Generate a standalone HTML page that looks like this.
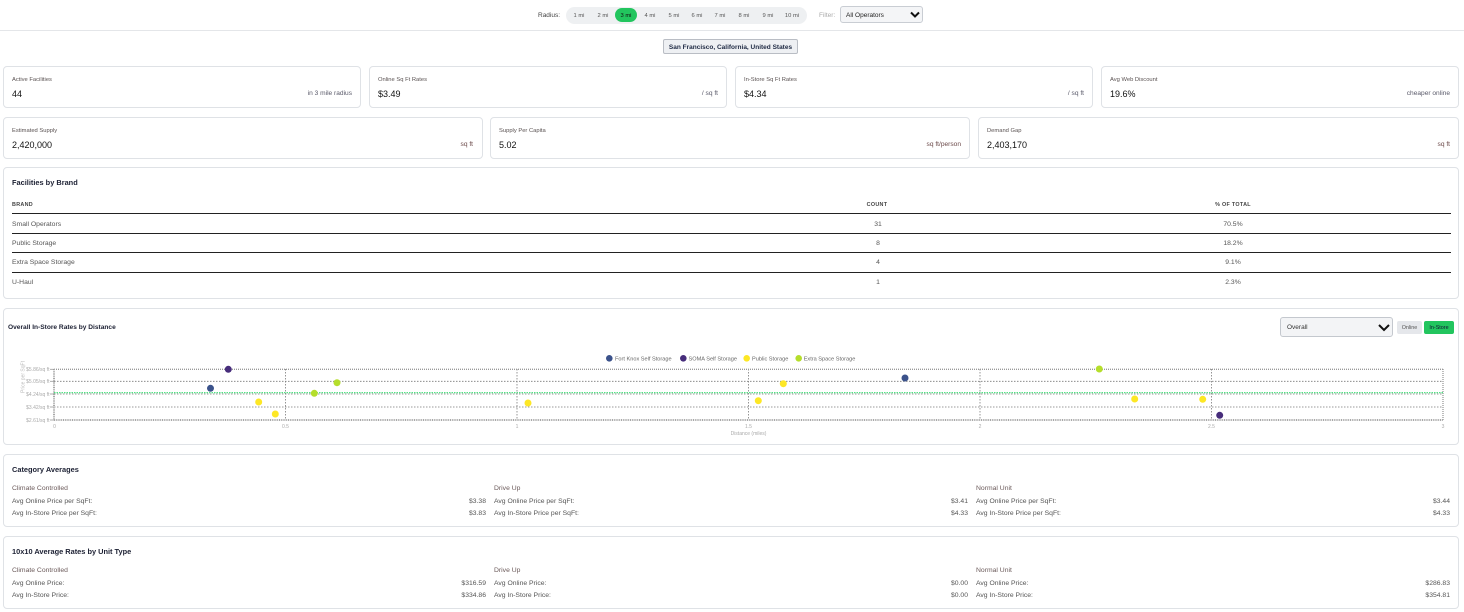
<!DOCTYPE html>
<html><head><meta charset="utf-8"><style>
html,body{margin:0;padding:0;background:#fff;}
#w{position:relative;width:1464px;height:612px;overflow:hidden;font-family:"Liberation Sans",Arial,sans-serif;color:#333;}
.a{position:absolute;white-space:nowrap;line-height:10px;}
.card{position:absolute;border:1px solid #dfe2e6;border-radius:4px;background:#fff;box-sizing:border-box;}
.lbl{font-size:5.8px;color:#5a5252;margin-top:0.7px;}
.val{font-size:9px;color:#111;margin-top:0.5px;}
.sub{font-size:6.6px;color:#5a5a6a;margin-top:0.7px;}
.ttl{font-size:7.4px;font-weight:bold;color:#1c2033;margin-top:0.7px;}
.b{font-size:6.8px;color:#555;margin-top:0.7px;}
.th{font-size:5.4px;font-weight:bold;color:#444;letter-spacing:0.3px;margin-top:0.7px;}
.hl{position:absolute;left:12px;width:1439px;height:1.5px;background:#222;}
.c{text-align:center;width:100px;}
.r{text-align:right;}
.pill{font-size:5.8px;color:#555;text-align:center;width:24px;margin-top:0.7px;}
.tt{margin-top:0.7px;}
</style></head><body><div id="w">

<!-- top bar -->
<div class="a tt" style="left:538px;top:10px;font-size:6.5px;color:#444;">Radius:</div>
<div class="a" style="left:566px;top:7px;width:241px;height:17px;background:#eef0f2;border-radius:9px;"></div>
<div class="a" style="left:615px;top:8px;width:22px;height:13.5px;background:#22c55e;border-radius:7px;"></div>
<div class="a pill" style="left:567px;top:10px;">1 mi</div>
<div class="a pill" style="left:591px;top:10px;">2 mi</div>
<div class="a pill" style="left:614px;top:10px;color:#111;">3 mi</div>
<div class="a pill" style="left:638px;top:10px;">4 mi</div>
<div class="a pill" style="left:662px;top:10px;">5 mi</div>
<div class="a pill" style="left:685px;top:10px;">6 mi</div>
<div class="a pill" style="left:708px;top:10px;">7 mi</div>
<div class="a pill" style="left:732px;top:10px;">8 mi</div>
<div class="a pill" style="left:756px;top:10px;">9 mi</div>
<div class="a pill" style="left:780px;top:10px;">10 mi</div>
<div class="a tt" style="left:819px;top:10px;font-size:6.5px;color:#aaa;">Filter:</div>
<div class="a" style="left:840px;top:6px;width:83px;height:17px;border:1px solid #c9cdd3;border-radius:3px;background:#f4f5f7;box-sizing:border-box;"></div>
<div class="a tt" style="left:846px;top:10px;font-size:6.5px;color:#222;">All Operators</div>
<svg class="a" style="left:0;top:0;" width="1464" height="60">
<polyline points="911,12.5 915,16.5 919,12.5" fill="none" stroke="#111" stroke-width="2"/>
</svg>
<div class="a" style="left:0;top:30px;width:1464px;height:1px;background:#e4e6e9;"></div>
<div class="a" style="left:663px;top:39px;width:135px;height:15px;background:#eef0f3;border:1px solid #b9bdc4;border-radius:2px;box-sizing:border-box;"></div>
<div class="a tt" style="left:663px;top:42px;width:135px;text-align:center;font-size:6.5px;font-weight:bold;color:#1f2a44;">San Francisco, California, United States</div>

<!-- stat cards row 1 -->
<div class="card" style="left:3px;top:66px;width:358px;height:42px;"></div>
<div class="card" style="left:369px;top:66px;width:358px;height:42px;"></div>
<div class="card" style="left:735px;top:66px;width:358px;height:42px;"></div>
<div class="card" style="left:1101px;top:66px;width:358px;height:42px;"></div>
<div class="a lbl" style="left:12px;top:74px;">Active Facilities</div>
<div class="a val" style="left:12px;top:88px;">44</div>
<div class="a sub r" style="right:1112px;top:88.5px;">in 3 mile radius</div>
<div class="a lbl" style="left:378px;top:74px;">Online Sq Ft Rates</div>
<div class="a val" style="left:378px;top:88px;">$3.49</div>
<div class="a sub r" style="right:746px;top:88.5px;">/ sq ft</div>
<div class="a lbl" style="left:744px;top:74px;">In-Store Sq Ft Rates</div>
<div class="a val" style="left:744px;top:88px;">$4.34</div>
<div class="a sub r" style="right:380px;top:88.5px;">/ sq ft</div>
<div class="a lbl" style="left:1110px;top:74px;">Avg Web Discount</div>
<div class="a val" style="left:1110px;top:88px;">19.6%</div>
<div class="a sub r" style="right:14px;top:88.5px;">cheaper online</div>

<!-- stat cards row 2 -->
<div class="card" style="left:3px;top:117px;width:480px;height:42px;"></div>
<div class="card" style="left:490px;top:117px;width:480px;height:42px;"></div>
<div class="card" style="left:978px;top:117px;width:481px;height:42px;"></div>
<div class="a lbl" style="left:12px;top:125px;">Estimated Supply</div>
<div class="a val" style="left:12px;top:139px;">2,420,000</div>
<div class="a sub r" style="right:991px;top:139.5px;color:#6a4848;">sq ft</div>
<div class="a lbl" style="left:499px;top:125px;">Supply Per Capita</div>
<div class="a val" style="left:499px;top:139px;">5.02</div>
<div class="a sub r" style="right:503px;top:139.5px;color:#6a4848;">sq ft/person</div>
<div class="a lbl" style="left:987px;top:125px;">Demand Gap</div>
<div class="a val" style="left:987px;top:139px;">2,403,170</div>
<div class="a sub r" style="right:14px;top:139.5px;color:#6a4848;">sq ft</div>

<!-- facilities by brand -->
<div class="card" style="left:3px;top:167px;width:1456px;height:132px;"></div>
<div class="a ttl" style="left:12px;top:177px;">Facilities by Brand</div>
<div class="a th" style="left:12px;top:199px;">BRAND</div>
<div class="a th c" style="left:827px;top:199px;">COUNT</div>
<div class="a th c" style="left:1183px;top:199px;">% OF TOTAL</div>
<div class="hl" style="top:212.5px;"></div>
<div class="hl" style="top:232.5px;"></div>
<div class="hl" style="top:251.5px;"></div>
<div class="hl" style="top:271.5px;"></div>
<div class="a b" style="left:12px;top:219px;">Small Operators</div>
<div class="a b c" style="left:828px;top:219px;">31</div>
<div class="a b c" style="left:1183px;top:219px;">70.5%</div>
<div class="a b" style="left:12px;top:238.5px;">Public Storage</div>
<div class="a b c" style="left:828px;top:238.5px;">8</div>
<div class="a b c" style="left:1183px;top:238.5px;">18.2%</div>
<div class="a b" style="left:12px;top:257.5px;">Extra Space Storage</div>
<div class="a b c" style="left:828px;top:257.5px;">4</div>
<div class="a b c" style="left:1183px;top:257.5px;">9.1%</div>
<div class="a b" style="left:12px;top:277px;">U-Haul</div>
<div class="a b c" style="left:828px;top:277px;">1</div>
<div class="a b c" style="left:1183px;top:277px;">2.3%</div>

<!-- chart card -->
<div class="card" style="left:3px;top:308px;width:1456px;height:137px;"></div>
<div class="a tt" style="left:8px;top:322px;font-size:6.6px;font-weight:bold;color:#1c2033;">Overall In-Store Rates by Distance</div>
<div class="a" style="left:1280px;top:317px;width:113px;height:20px;border:1px solid #c4c8ce;border-radius:3px;background:#f3f4f6;box-sizing:border-box;"></div>
<div class="a tt" style="left:1287px;top:322px;font-size:6.5px;color:#333;">Overall</div>
<div class="a" style="left:1397px;top:321px;width:25px;height:13px;background:#e5e7eb;border-radius:2px;"></div>
<div class="a tt" style="left:1397px;top:322.5px;width:25px;text-align:center;font-size:5.4px;color:#555;">Online</div>
<div class="a" style="left:1424px;top:321px;width:30px;height:13px;background:#22c55e;border-radius:2px;"></div>
<div class="a tt" style="left:1424px;top:322.5px;width:30px;text-align:center;font-size:5.4px;color:#113;">In-Store</div>

<svg class="a" style="left:0;top:300px;" width="1464" height="150" viewBox="0 300 1464 150">
<polyline points="1379,325 1384,330 1389,325" fill="none" stroke="#111" stroke-width="2"/>
<!-- legend -->
<g font-family="Liberation Sans, Arial, sans-serif" font-size="5.6" fill="#666">
<circle cx="609.3" cy="358.3" r="3.3" fill="#3b528b"/><text x="615" y="360.3">Fort Knox Self Storage</text>
<circle cx="683.3" cy="358.3" r="3.3" fill="#472d7b"/><text x="688.5" y="360.3">SOMA Self Storage</text>
<circle cx="746.7" cy="358.3" r="3.3" fill="#fde725"/><text x="752" y="360.3">Public Storage</text>
<circle cx="798.7" cy="358.3" r="3.3" fill="#b5de2b"/><text x="803.7" y="360.3">Extra Space Storage</text>
</g>
<!-- grid -->
<g stroke="#7a7a7a" stroke-width="0.8" stroke-dasharray="1.5 1.5" fill="none">
<line x1="54" y1="381.3" x2="1443" y2="381.3"/>
<line x1="54" y1="394" x2="1443" y2="394"/>
<line x1="54" y1="407" x2="1443" y2="407"/>
<line x1="285.5" y1="369" x2="285.5" y2="420"/>
<line x1="517" y1="369" x2="517" y2="420"/>
<line x1="748.5" y1="369" x2="748.5" y2="420"/>
<line x1="980" y1="369" x2="980" y2="420"/>
<line x1="1211.5" y1="369" x2="1211.5" y2="420"/>
</g>
<g stroke="#999" stroke-width="1.3" stroke-dasharray="1 1" fill="none">
<line x1="54" y1="369.3" x2="1443" y2="369.3"/>
<line x1="1443" y1="369" x2="1443" y2="420"/>
</g>
<g stroke="#a8a8a8" stroke-width="2" stroke-dasharray="1 0.8" fill="none">
<line x1="54" y1="420" x2="1443" y2="420"/>
<line x1="54" y1="369" x2="54" y2="421"/>
</g>
<line x1="54" y1="392.7" x2="1443" y2="392.7" stroke="#3ddc74" stroke-width="1.2" stroke-dasharray="1.5 1"/>
<!-- ticks -->
<g stroke="#999" stroke-width="0.8">
<line x1="50" y1="369.3" x2="54" y2="369.3"/><line x1="50" y1="381.3" x2="54" y2="381.3"/>
<line x1="50" y1="394" x2="54" y2="394"/><line x1="50" y1="407" x2="54" y2="407"/>
<line x1="50" y1="420" x2="54" y2="420"/>
</g>
<g font-family="Liberation Sans, Arial, sans-serif" font-size="5" fill="#aaa" text-anchor="end">
<text x="49.5" y="371">$5.86/sq ft</text>
<text x="49.5" y="383">$5.05/sq ft</text>
<text x="49.5" y="395.8">$4.24/sq ft</text>
<text x="49.5" y="408.8">$3.42/sq ft</text>
<text x="49.5" y="421.8">$2.61/sq ft</text>
</g>
<text x="24.5" y="377" font-family="Liberation Sans, Arial, sans-serif" font-size="5" fill="#bbb" text-anchor="middle" transform="rotate(-90 24.5 377)">Price per SqFt</text>
<g font-family="Liberation Sans, Arial, sans-serif" font-size="5" fill="#aaa" text-anchor="middle">
<text x="54.5" y="428">0</text>
<text x="285.5" y="428">0.5</text>
<text x="517" y="428">1</text>
<text x="748.5" y="428">1.5</text>
<text x="980" y="428">2</text>
<text x="1211.5" y="428">2.5</text>
<text x="1443" y="428">3</text>
<text x="748.5" y="435">Distance (miles)</text>
</g>
<!-- points -->
<g>
<circle cx="210.5" cy="388.3" r="3.5" fill="#3b528b"/>
<circle cx="905" cy="378" r="3.5" fill="#3b528b"/>
<circle cx="228.3" cy="369.3" r="3.5" fill="#472d7b"/>
<circle cx="1219.7" cy="415.3" r="3.5" fill="#472d7b"/>
<circle cx="258.7" cy="402" r="3.5" fill="#fde725"/>
<circle cx="275.3" cy="414" r="3.5" fill="#fde725"/>
<circle cx="528" cy="403" r="3.5" fill="#fde725"/>
<circle cx="758.3" cy="400.7" r="3.5" fill="#fde725"/>
<circle cx="783.3" cy="383.7" r="3.5" fill="#fde725"/>
<circle cx="1134.7" cy="399" r="3.5" fill="#fde725"/>
<circle cx="1202.7" cy="399.3" r="3.5" fill="#fde725"/>
<circle cx="314.3" cy="393.3" r="3.5" fill="#b5de2b"/>
<circle cx="337" cy="382.7" r="3.5" fill="#b5de2b"/>
<circle cx="1099.3" cy="369" r="3.5" fill="#b5de2b"/>
</g>
</svg>

<!-- category averages -->
<div class="card" style="left:3px;top:454px;width:1456px;height:73px;"></div>
<div class="a ttl" style="left:12px;top:464px;">Category Averages</div>
<div class="a b" style="left:12px;top:483px;color:#6b5a5a;">Climate Controlled</div>
<div class="a b" style="left:12px;top:496px;">Avg Online Price per SqFt:</div>
<div class="a b r" style="right:978px;top:496px;">$3.38</div>
<div class="a b" style="left:12px;top:508px;">Avg In-Store Price per SqFt:</div>
<div class="a b r" style="right:978px;top:508px;">$3.83</div>
<div class="a b" style="left:494px;top:483px;color:#6b5a5a;">Drive Up</div>
<div class="a b" style="left:494px;top:496px;">Avg Online Price per SqFt:</div>
<div class="a b r" style="right:496px;top:496px;">$3.41</div>
<div class="a b" style="left:494px;top:508px;">Avg In-Store Price per SqFt:</div>
<div class="a b r" style="right:496px;top:508px;">$4.33</div>
<div class="a b" style="left:976px;top:483px;color:#6b5a5a;">Normal Unit</div>
<div class="a b" style="left:976px;top:496px;">Avg Online Price per SqFt:</div>
<div class="a b r" style="right:14px;top:496px;">$3.44</div>
<div class="a b" style="left:976px;top:508px;">Avg In-Store Price per SqFt:</div>
<div class="a b r" style="right:14px;top:508px;">$4.33</div>

<!-- 10x10 -->
<div class="card" style="left:3px;top:536px;width:1456px;height:73px;"></div>
<div class="a ttl" style="left:12px;top:546px;">10x10 Average Rates by Unit Type</div>
<div class="a b" style="left:12px;top:565px;color:#6b5a5a;">Climate Controlled</div>
<div class="a b" style="left:12px;top:578px;">Avg Online Price:</div>
<div class="a b r" style="right:978px;top:578px;">$316.59</div>
<div class="a b" style="left:12px;top:590px;">Avg In-Store Price:</div>
<div class="a b r" style="right:978px;top:590px;">$334.86</div>
<div class="a b" style="left:494px;top:565px;color:#6b5a5a;">Drive Up</div>
<div class="a b" style="left:494px;top:578px;">Avg Online Price:</div>
<div class="a b r" style="right:496px;top:578px;">$0.00</div>
<div class="a b" style="left:494px;top:590px;">Avg In-Store Price:</div>
<div class="a b r" style="right:496px;top:590px;">$0.00</div>
<div class="a b" style="left:976px;top:565px;color:#6b5a5a;">Normal Unit</div>
<div class="a b" style="left:976px;top:578px;">Avg Online Price:</div>
<div class="a b r" style="right:14px;top:578px;">$286.83</div>
<div class="a b" style="left:976px;top:590px;">Avg In-Store Price:</div>
<div class="a b r" style="right:14px;top:590px;">$354.81</div>

</div></body></html>
